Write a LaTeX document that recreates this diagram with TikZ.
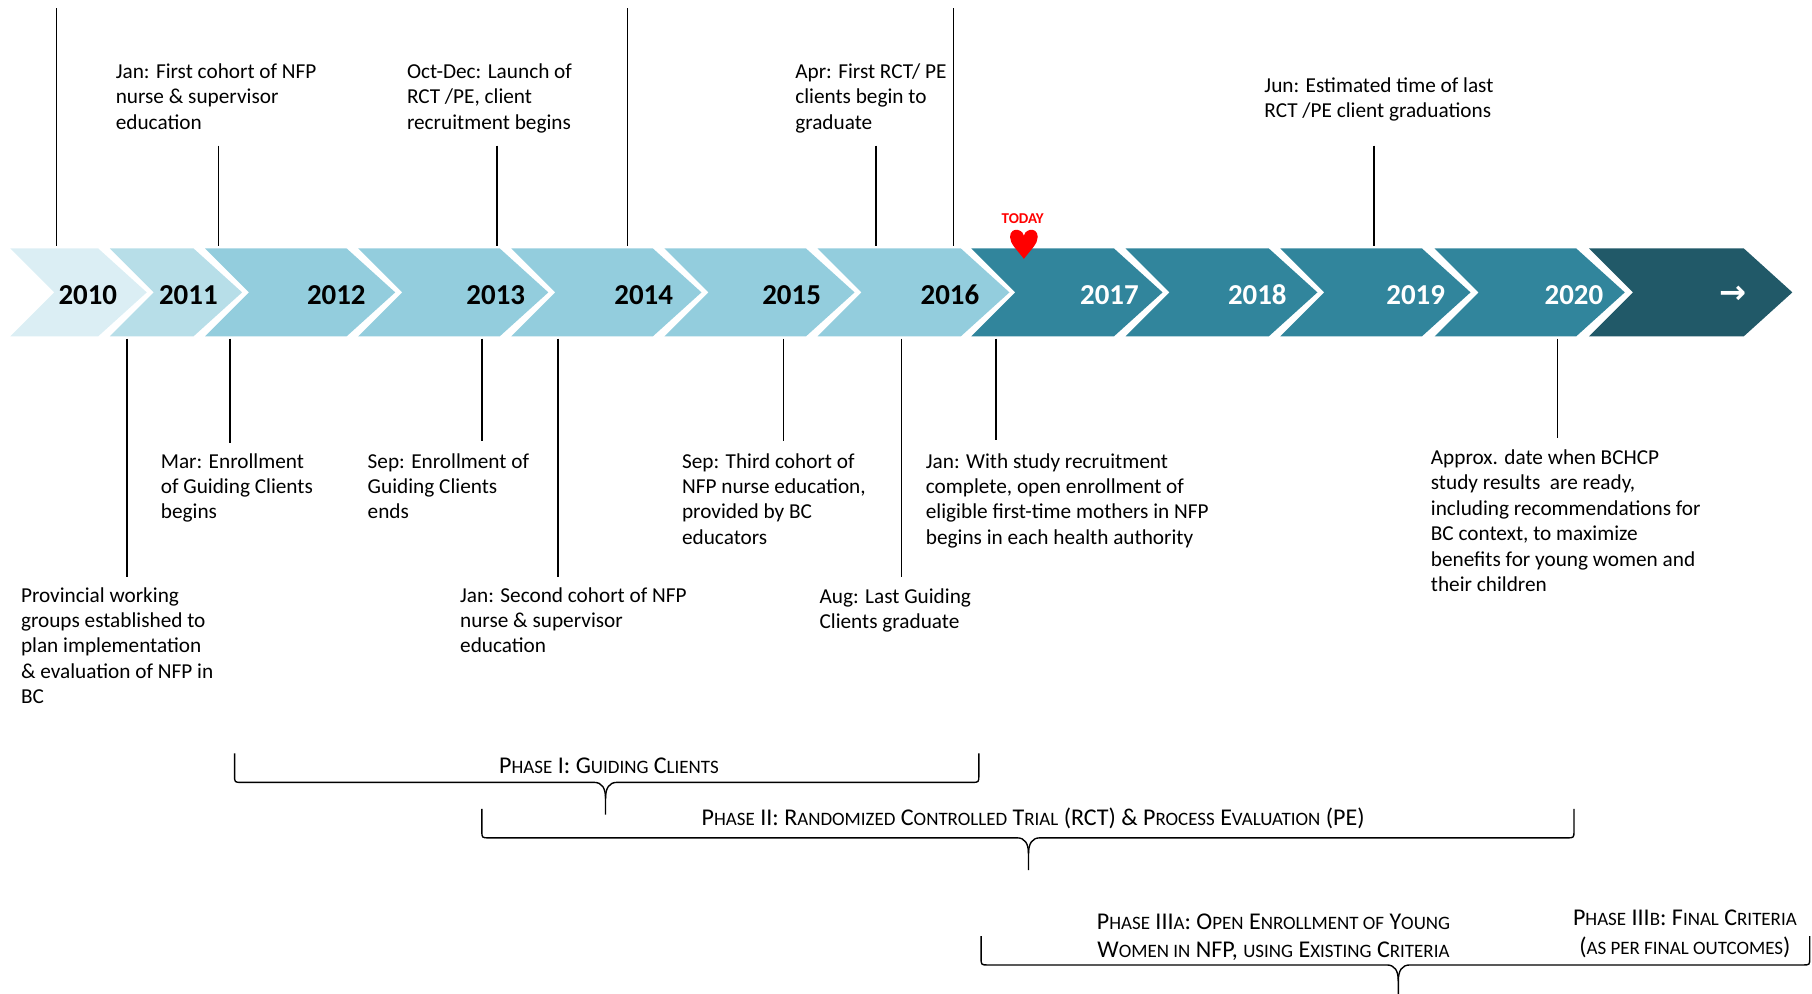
\documentclass[tikz,border=0pt]{standalone}
\usepackage{fontspec}
\setmainfont{Carlito}
\newfontfamily\arrowfont{DejaVu Sans}
\usetikzlibrary{calc}

\definecolor{yrfirst}{HTML}{DBEEF4}
\definecolor{yrsecond}{HTML}{B7DEE8}
\definecolor{yrpast}{HTML}{93CDDD}
\definecolor{yrnext}{HTML}{31859C}
\definecolor{yrlast}{HTML}{215968}
\definecolor{todayred}{HTML}{FF0000}

%Fake small capitals for the phase labels
\newcommand{\smc}[1]{{\fontsize{16.4}{19}\selectfont #1}}

\begin{document}
\begin{tikzpicture}[x=1pt,y=-1pt,
     event/.style={align=left,anchor=north west,inner sep=0pt,font=\fontsize{18.4}{22}\selectfont},
     year/.style={font=\fontsize{25}{30}\selectfont\bfseries,inner sep=0pt},
     phase/.style={align=center,inner sep=0pt,font=\fontsize{20.8}{25}\selectfont},
     tick/.style={line width=1.2pt},
     brace/.style={line width=1.2pt,line join=round}
     ]
\useasboundingbox (0,0) rectangle (1568,860);

%Heights of the chevron band
\def \ytop{215}
\def \ybot{291}
\def \ymid{253}
\def \tipd{42}
\def \notchd{38}

%Draw the chevrons
\foreach \l/\r/\col in {9/85/yrfirst,95/167.5/yrsecond,177.5/300/yrpast,310/432.5/yrpast,442.5/565/yrpast,575/697.5/yrpast,707.5/831.5/yrpast,840.5/964/yrnext,974/1098/yrnext,1108/1230.5/yrnext,1241.5/1364/yrnext,1375/1509/yrlast}
   {
\fill[\col] (\l,\ytop) -- (\r,\ytop) -- ({\r+\tipd},\ymid) -- (\r,\ybot) -- (\l,\ybot) -- ({\l+\notchd},\ymid) -- cycle;
   }

%Years written on the chevrons
\foreach \x/\yr/\col in {76/2010/black,163/2011/black,291/2012/black,429/2013/black,557/2014/black,685/2015/black,822/2016/black,960/2017/white,1088/2018/white,1225/2019/white,1362/2020/white}
   {
\node[year,text=\col] (y\yr) at (\x,255) {\yr};
   }
\node[year,text=white,font=\fontsize{28}{30}\selectfont\bfseries] (ynext) at (1500,255) {\arrowfont →};

%Events above the band
\foreach \n/\lx/\ly/\tx/\ty/\txt in {jan11/189/126/100/55/{Jan: First cohort of NFP\\nurse \& supervisor\\education},
    oct13/430/126/352/55/{Oct-Dec: Launch of\\RCT /PE, client\\recruitment begins},
    apr16/758/126/688/55/{Apr: First RCT/ PE\\clients begin to\\graduate},
    jun19/1189/126/1094/67/{Jun: Estimated time of last\\RCT /PE client graduations}}
   {
\node[event] (\n) at (\tx,\ty) {\txt};
\coordinate (\n-a) at (\lx,\ly);
\coordinate (\n-b) at (\lx,213);
\draw[tick] (\n-a) -- (\n-b);
   }
\foreach \lx [count=\i] in {49,543,825}
   {
\coordinate (long\i-a) at (\lx,7);
\coordinate (long\i-b) at (\lx,213);
\draw[tick] (long\i-a) -- (long\i-b);
   }

%Events below the band
\foreach \n/\lx/\ly/\tx/\ty/\txt in {prov10/110/499/18/508/{Provincial working\\groups established to\\plan implementation\\\& evaluation of NFP in\\BC},
    mar11/199/383/139/392/{Mar: Enrollment\\of Guiding Clients\\begins},
    sep13/417/382/318/392/{Sep: Enrollment of\\Guiding Clients\\ends},
    jan14/483/499/398/508/{Jan: Second cohort of NFP\\nurse \& supervisor\\education},
    sep15/678/382/590/392/{Sep: Third cohort of\\NFP nurse education,\\provided by BC\\educators},
    aug16/780/499/709/509/{Aug: Last Guiding\\Clients graduate},
    jan17/862/381/801/392/{Jan: With study recruitment\\complete, open enrollment of\\eligible first-time mothers in NFP\\begins in each health authority},
    res20/1348/379/1238/389/{Approx. date when BCHCP\\study results\ \ are ready,\\including recommendations for\\BC context, to maximize\\benefits for young women and\\their children}}
   {
\node[event] (\n) at (\tx,\ty) {\txt};
\coordinate (\n-a) at (\lx,293);
\coordinate (\n-b) at (\lx,\ly);
\draw[tick] (\n-a) -- (\n-b);
   }

%Today marker
\node[font=\fontsize{13}{15}\selectfont\bfseries,text=todayred,inner sep=0pt] (today) at (885,189) {TODAY};
\fill[todayred] (886,224) .. controls (880,216) and (874,211) .. (874,205) .. controls (874,200) and (878,198) .. (881,199) .. controls (884,200) and (886,202) .. (886,204) .. controls (886,202) and (888,200) .. (891,199) .. controls (894,198) and (898,200) .. (898,205) .. controls (898,211) and (892,216) .. (886,224) -- cycle;

%Phase braces
\foreach \l/\r/\m/\t/\h/\s in {203/847/524/652/677/705,417/1362/890/700/725/753,849/1566/1210/810/835/864}
   {
\draw[brace] (\l,\t) -- (\l,{\h-6}) .. controls (\l,\h) .. ({\l+6},\h) -- ({\m-10},\h) .. controls ({\m-3},\h) and (\m,{\h+5}) .. (\m,{\h+14}) -- (\m,\s);
\draw[brace] (\m,{\h+14}) .. controls (\m,{\h+5}) and ({\m+3},\h) .. ({\m+10},\h) -- ({\r-6},\h) .. controls (\r,\h) .. (\r,{\h-6}) -- (\r,\t);
   }

%Phase labels
\node[phase] (ph1) at (527,663) {P\smc{HASE} I: G\smc{UIDING} C\smc{LIENTS}};
\node[phase] (ph2) at (894,708) {P\smc{HASE} II: R\smc{ANDOMIZED} C\smc{ONTROLLED} T\smc{RIAL} (RCT) \& P\smc{ROCESS} E\smc{VALUATION} (PE)};
\node[phase] (ph3a) at (1102,811) {P\smc{HASE} III\smc{A}: O\smc{PEN} E\smc{NROLLMENT OF} Y\smc{OUNG}\\W\smc{OMEN IN} NFP, \smc{USING} E\smc{XISTING} C\smc{RITERIA}};
\node[phase] (ph3b) at (1458,808) {P\smc{HASE} III\smc{B}: F\smc{INAL} C\smc{RITERIA}\\(\smc{AS PER FINAL OUTCOMES})};
 \end{tikzpicture}
\end{document}
